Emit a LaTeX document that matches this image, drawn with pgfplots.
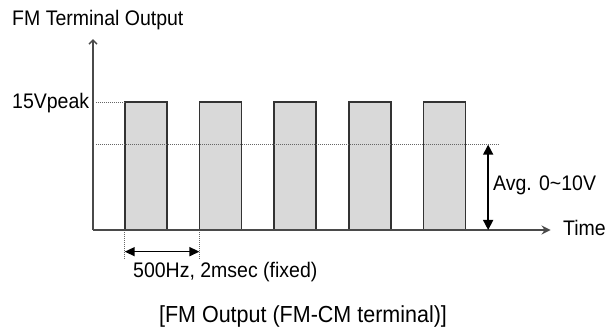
\documentclass[border=0pt]{standalone}
\usepackage{fontspec}
\setmainfont{Liberation Sans}
\usepackage{pgfplots}
\pgfplotsset{compat=1.18}
\usetikzlibrary{arrows.meta}
\definecolor{pulsefill}{HTML}{D9D9D9}
\definecolor{pulseline}{HTML}{333333}
\definecolor{axisline}{HTML}{4A4A4A}
\definecolor{dotline}{HTML}{666666}
\begin{document}
\begin{tikzpicture}[x=1pt,y=1pt]
\useasboundingbox (-93,-106) rectangle (520,230);
\begin{axis}[at={(0,0)}, anchor=south west, x=37.35pt, y=8.533pt,
  xmin=0, xmax=12.3, ymin=0, ymax=22.4, hide axis, clip=false]
% pulse train (ms, V)
\addplot[draw=pulseline, line width=1.8pt, fill=pulsefill] coordinates {
(0.85,0)(0.85,15)(1.975,15)(1.975,0)
(2.85,0)(2.85,15)(3.975,15)(3.975,0)
(4.85,0)(4.85,15)(5.975,15)(5.975,0)
(6.85,0)(6.85,15)(7.975,15)(7.975,0)
(8.85,0)(8.85,15)(9.975,15)(9.975,0)
} \closedcycle;
% dotted guides
\addplot[dotline, line width=0.8pt, dash pattern=on 1pt off 1pt] coordinates {(0.08,15)(0.85,15)};
\addplot[dotline, line width=0.8pt, dash pattern=on 1pt off 1pt] coordinates {(0.08,10)(10.87,10)};
\addplot[dotline, line width=0.8pt, dash pattern=on 1pt off 1pt] coordinates {(0.85,0)(0.85,-3.5)};
\addplot[dotline, line width=0.8pt, dash pattern=on 1pt off 1pt] coordinates {(2.85,0)(2.85,-3.5)};
% axes
\addplot[axisline, line width=2pt, -{Straight Barb[length=4pt,width=8pt,line width=1.4pt]}] coordinates {(0,0)(0,22.38)};
\addplot[axisline, line width=2pt, -{Stealth[length=9pt,width=9pt,inset=3pt]}] coordinates {(0,0)(12.25,0)};
% dimension arrows
\addplot[black, line width=1.5pt, {Triangle[length=10pt,width=10pt]}-{Triangle[length=10pt,width=10pt]}] coordinates {(10.58,10)(10.58,0)};
\addplot[black, line width=1.5pt, {Triangle[length=10pt,width=9pt]}-{Triangle[length=10pt,width=9pt]}] coordinates {(0.85,-2.54)(2.85,-2.54)};
\end{axis}
\begin{scope}[every node/.style={inner sep=0pt, font=\fontsize{19.5}{23}\selectfont}]
\node[anchor=base west] at (-81,204) {\scalebox{1}[1.08]{FM Terminal Output}};
\node[anchor=base west] at (-81,121) {\scalebox{1}[1.08]{15Vpeak}};
\node[anchor=base west] at (400,39) {\scalebox{1}[1.08]{Avg. 0\textasciitilde10V}};
\node[anchor=base west] at (470,-6) {\scalebox{1}[1.08]{Time}};
\node[anchor=base west] at (40,-47.7) {\scalebox{1}[1.08]{500Hz, 2msec (fixed)}};
\node[anchor=base, font=\fontsize{21.5}{25}\selectfont] at (210,-92.7) {\scalebox{1}[1.08]{[FM Output (FM-CM terminal)]}};
\end{scope}
\end{tikzpicture}
\end{document}
